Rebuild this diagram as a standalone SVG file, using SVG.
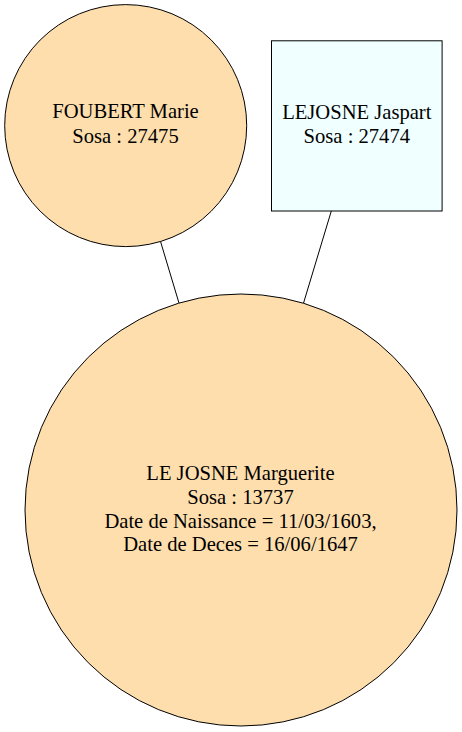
<svg xmlns="http://www.w3.org/2000/svg" width="462" height="732" viewBox="0 0 462 732">
<style>
.node{stroke:#000;stroke-width:1}
.person{fill:#FFDEAD}
.male{fill:#F0FFFF}
.lbl{font-family:"Liberation Serif","Times New Roman","DejaVu Serif",serif;font-size:20.6px;fill:#000;text-anchor:middle}
.edge{stroke:#000;stroke-width:1;fill:none}
</style>
<rect width="462" height="732" fill="#fff"/>
<g id="connectors">
<line class="edge" x1="160.5" y1="241.4" x2="179" y2="303.1"/>
<line class="edge" x1="331.3" y1="211" x2="303.5" y2="303.2"/>
</g>
<g id="node-foubert">
<circle class="node person" cx="125.7" cy="125.6" r="121"/>
<text class="lbl" x="125.5" y="118.4">FOUBERT Marie</text>
<text class="lbl" x="125.5" y="142.8">Sosa : 27475</text>
</g>
<g id="node-lejosne-jaspart">
<rect class="node male" x="271.5" y="40.8" width="170.6" height="170.2"/>
<text class="lbl" x="356.8" y="118.8">LEJOSNE Jaspart</text>
<text class="lbl" x="356.8" y="142.5">Sosa : 27474</text>
</g>
<g id="node-marguerite">
<circle class="node person" cx="241" cy="510" r="216"/>
<text class="lbl" x="240.5" y="480">LE JOSNE Marguerite</text>
<text class="lbl" x="240.5" y="504">Sosa : 13737</text>
<text class="lbl" x="240.5" y="527.7">Date de Naissance = 11/03/1603,</text>
<text class="lbl" x="240.5" y="551.4">Date de Deces = 16/06/1647</text>
</g>
</svg>
